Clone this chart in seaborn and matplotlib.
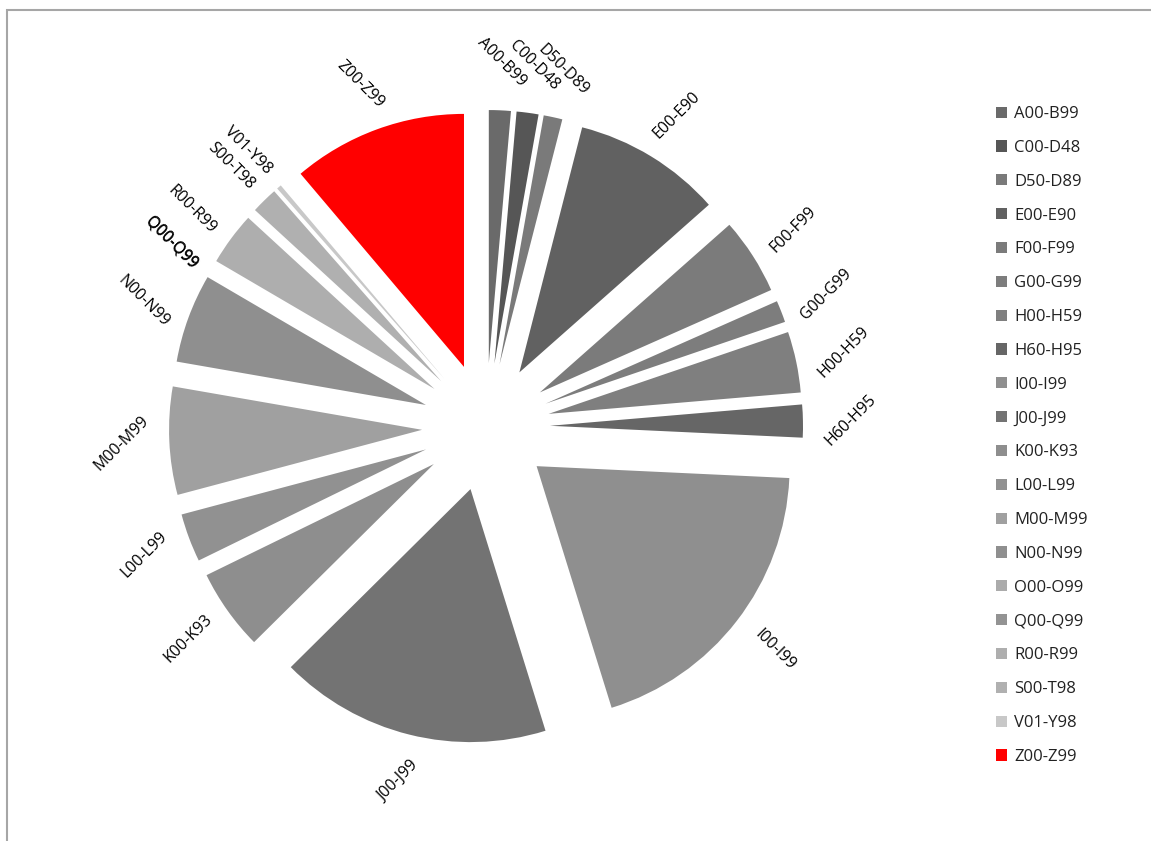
import numpy as np
import matplotlib
matplotlib.use("Agg")
import matplotlib.pyplot as plt
from matplotlib.patches import Rectangle
import seaborn as sns

# ICD-10 chapter groups, clockwise from 12 o'clock
groups = ["A00-B99", "C00-D48", "D50-D89", "E00-E90", "F00-F99", "G00-G99",
          "H00-H59", "H60-H95", "I00-I99", "J00-J99", "K00-K93", "L00-L99",
          "M00-M99", "N00-N99", "O00-O99", "Q00-Q99", "R00-R99", "S00-T98",
          "V01-Y98", "Z00-Z99"]
shares = [1.4, 1.4, 1.2, 9.5, 4.9, 1.4, 3.9, 2.1, 19.5, 17.4, 5.2, 3.1,
          6.9, 5.7, 0.0, 0.0, 3.4, 1.7, 0.3, 11.2]
colors = ["#6a6a6a", "#565656", "#7a7a7a", "#616161", "#7b7b7b", "#7d7d7d",
          "#7f7f7f", "#666666", "#8f8f8f", "#737373", "#8e8e8e", "#919191",
          "#a0a0a0", "#8f8f8f", "#ababab", "#939393", "#aeaeae", "#b0b0b0",
          "#c8c8c8", "#ff0000"]

sns.set_theme(style="white")
plt.rcParams["font.family"] = ["Open Sans", "DejaVu Sans"]

W, H = 1151, 841
cx, cy, R = 486, 427, 253   # pie centre and radius in pixels

fig = plt.figure(figsize=(W / 100, H / 100), dpi=100)
ax = fig.add_axes([0, 0, 1, 1])

wedges, texts = ax.pie(shares, labels=groups, colors=colors, startangle=90,
                       counterclock=False, explode=[64 / R] * len(shares),
                       labeldistance=1.19, radius=1,
                       wedgeprops=dict(linewidth=0),
                       textprops=dict(fontsize=11.5, color="black"))

# map one data unit to R pixels, pie centre at (cx, cy)
ax.set_xlim(-cx / R, (W - cx) / R)
ax.set_ylim(-(H - cy) / R, cy / R)
ax.set_aspect("equal")
ax.axis("off")

# labels tilted 45 deg, "/" or "\" depending on where they sit
for t in texts:
    x, y = t.get_position()
    ang = np.degrees(np.arctan2(y, x)) % 360
    slash = (0 <= ang < 70) or (180 <= ang < 270)
    t.set_rotation(45 if slash else -45)
    t.set_rotation_mode("anchor")
    t.set_ha("center")
    t.set_va("center")

ax.legend(wedges, groups, loc="upper left", bbox_to_anchor=(996 / W, 1 - 106 / H),
          bbox_transform=fig.transFigure, frameon=False, fontsize=12,
          handlelength=0.65, handleheight=0.65, handletextpad=0.45,
          labelspacing=1.07, borderpad=0, borderaxespad=0,
          labelcolor="#222222")

# chart-area border (partly cut off, as in the original export)
fig.patches.append(Rectangle((7 / W, -0.2), 1.2, 1.2 - 10 / H,
                             transform=fig.transFigure, fill=False,
                             edgecolor="#a6a6a6", linewidth=1.5))

fig.savefig("out.png", dpi=100)
plt.close(fig)
